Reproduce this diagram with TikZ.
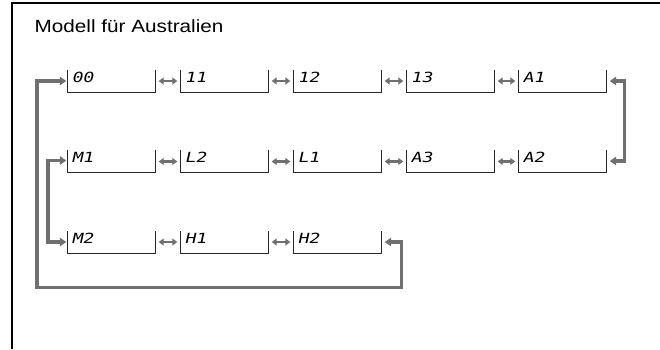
\documentclass[tikz,border=0pt]{standalone}
\usepackage{fontspec}
\setmainfont{Liberation Sans}
\newfontfamily\lcd[FakeSlant=0.22,FakeStretch=1.3]{DejaVu Sans Mono}
\usetikzlibrary{arrows.meta}
\definecolor{conn}{gray}{0.44}
\tikzset{
  box/.style={rectangle, minimum width=87pt, minimum height=22pt, inner sep=0pt},
  lbl/.style={anchor=north west, inner sep=0pt, font=\lcd\fontsize{14}{15}\selectfont},
  dbl/.style={conn, line width=2.4pt, {Triangle[length=5pt,width=7pt]}-{Triangle[length=5pt,width=7pt]}},
  loopline/.style={conn, line width=3.8pt, {Triangle[length=6.5pt,width=8.5pt]}-{Triangle[length=6.5pt,width=8.5pt]}},
}
\begin{document}
\begin{tikzpicture}[x=1pt,y=-1pt]
\useasboundingbox (0,0) rectangle (660,349);
\draw[line width=1.2pt] (12,349) -- (12,3) -- (660,3);
\node[anchor=base west, inner sep=0pt, font=\fontsize{17.7}{20}\selectfont] (title) at (34.5,32.7) {\scalebox{1.17}[1]{Modell für Australien}};
% boxes
\foreach \n/\x/\y/\t in {b00/68/81/00, b11/181/81/11, b12/294/81/12, b13/407/81/13, bA1/519/81/A1,
                         bM1/68/161.5/M1, bL2/181/161.5/L2, bL1/294/161.5/L1, bA3/407/161.5/A3, bA2/519/161.5/A2,
                         bM2/68/242/M2, bH1/181/242/H1, bH2/294/242/H2}{
  \node[box] (\n) at (\x+43.5,\y) {};
  \draw[line width=0.9pt, black!85] (\n.north west) |- (\n.south east) -- (\n.north east);
  \node[lbl] (\n t) at ([xshift=3.5pt,yshift=-2pt]\n.north west) {\t};
}
% double arrows within rows
\foreach \a/\b in {b00/b11, b11/b12, b12/b13, b13/bA1, bM1/bL2, bL2/bL1, bL1/bA3, bA3/bA2, bM2/bH1, bH1/bH2}{
  \draw[dbl] ([xshift=3.5pt]\a.east) -- ([xshift=-3.5pt]\b.west);
}
% loops
\coordinate (c1) at (37,81);
\coordinate (c2) at (37,287.5);
\coordinate (c3) at (401.5,287.5);
\coordinate (c4) at (401.5,242);
\draw[loopline] ([xshift=-1.5pt]b00.west) -- (c1) -- (c2) -- (c3) -- (c4) -- ([xshift=3.5pt]bH2.east);
\coordinate (r1) at (624.5,81);
\coordinate (r2) at (624.5,161);
\draw[loopline] ([xshift=3.5pt]bA1.east) -- (r1) -- (r2) -- ([xshift=3.5pt,yshift=0.5pt]bA2.east);
\coordinate (m1) at (48,160.5);
\coordinate (m2) at (48,242);
\draw[loopline] ([xshift=-1.5pt,yshift=1pt]bM1.west) -- (m1) -- (m2) -- ([xshift=-1.5pt]bM2.west);
\end{tikzpicture}
\end{document}
